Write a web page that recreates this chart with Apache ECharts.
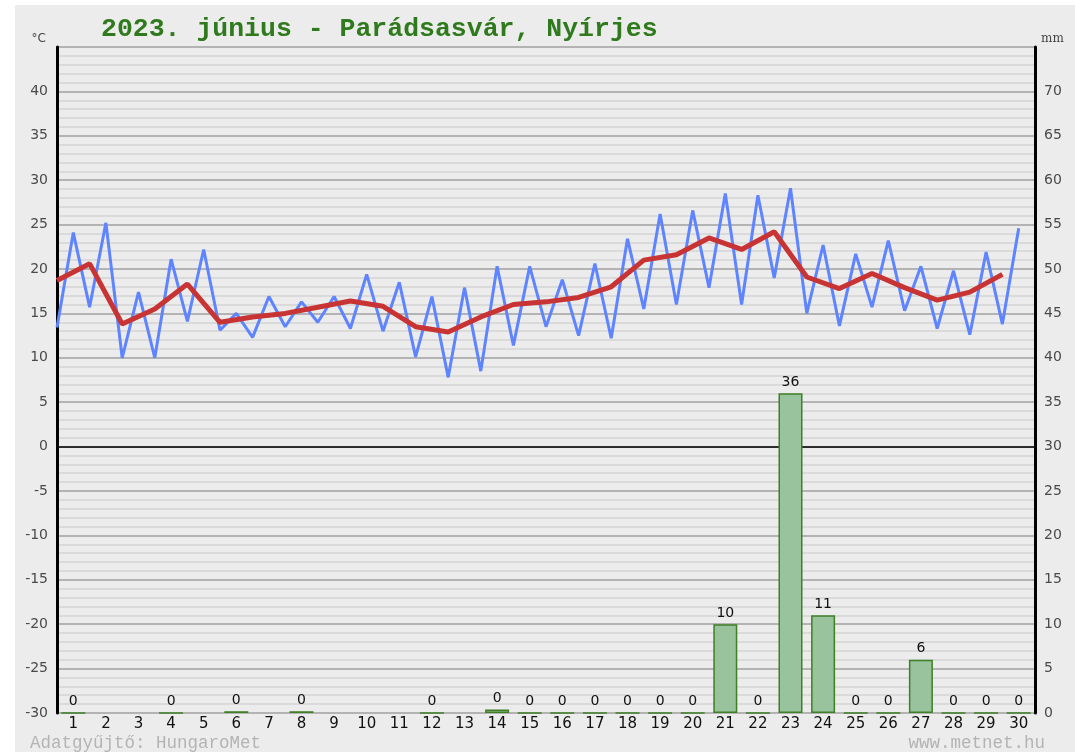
<!DOCTYPE html>
<html>
<head>
<meta charset="utf-8">
<script src="https://cdn.jsdelivr.net/npm/echarts@6/dist/echarts.min.js"></script>
<style>html,body{margin:0;padding:0;background:#fff}#c{width:1075px;height:752px}</style>
</head>
<body>
<div id="c"></div>
<script>
const days = ['1','2','3','4','5','6','7','8','9','10','11','12','13','14','15','16','17','18','19','20','21','22','23','24','25','26','27','28','29','30'];
// half-day temperatures (°C): alternating night minimum / day maximum
const tempHalfDay = [13.4,24.1,15.7,25.2,10.0,17.4,10.0,21.1,14.1,22.2,
  13.1,15.0,12.3,16.9,13.5,16.3,14.0,16.9,13.3,19.4,
  13.0,18.5,10.1,16.9,7.8,17.9,8.5,20.3,11.4,20.3,
  13.5,18.8,12.5,20.6,12.2,23.4,15.5,26.2,16.0,26.6,
  17.9,28.5,16.0,28.3,19.0,29.1,15.0,22.7,13.6,21.7,
  15.7,23.2,15.3,20.3,13.3,19.8,12.6,21.9,13.8,24.6];
// daily mean temperature (°C)
const tempDailyMean = [18.7,20.6,13.8,15.5,18.3,14.0,14.6,15.0,15.7,16.4,
  15.8,13.5,12.9,14.6,16.0,16.3,16.8,18.0,21.0,21.6,
  23.5,22.2,24.2,19.1,17.8,19.5,17.9,16.5,17.4,19.4];
// daily precipitation (mm), null = no report
const precip = [0,null,null,0,null,0.2,null,0.2,null,null,
  null,0,null,0.4,0,0,0,0,0,0,
  10,0,36,11,0,0,6,0,0,0];
const tempTicks = {min:-30, max:45, step:5};
const precipTicks = {min:0, max:75, step:5};

const chart = echarts.init(document.getElementById('c'));
const lbl = {fontFamily:'DejaVu Sans', fontSize:14, color:'#4a4a4a'};
chart.setOption({
  backgroundColor:'#ececec',
  animation:false,
  title:{text:'2023. június - Parádsasvár, Nyírjes', left:96, top:11,
    textStyle:{fontFamily:'Liberation Mono', fontWeight:'bold', fontSize:26.5, color:'#2f7a1c'}},
  graphic:[
    {type:'rect', shape:{x:0,y:0,width:15,height:752}, style:{fill:'#fff'}, z:-1},
    {type:'rect', shape:{x:0,y:0,width:1075,height:5}, style:{fill:'#fff'}, z:-1},
    {type:'text', left:30, top:734, style:{text:'Adatgyűjtő: HungaroMet', font:'17.5px "Liberation Mono"', fill:'#b4b4b4'}},
    {type:'text', right:30, top:734, style:{text:'www.metnet.hu', font:'17.5px "Liberation Mono"', fill:'#b4b4b4'}}
  ],
  grid:{left:57, right:40, top:47, bottom:39},
  xAxis:[
    {type:'category', data:days, boundaryGap:true,
     axisLine:{show:false}, axisTick:{show:false},
     axisLabel:{fontFamily:'DejaVu Sans', fontSize:15, color:'#111', margin:4}},
    {type:'value', min:0, max:30, show:false}
  ],
  yAxis:[
    {type:'value', min:tempTicks.min, max:tempTicks.max, interval:tempTicks.step,
     name:'°C', nameLocation:'end', nameGap:2,
     nameTextStyle:{fontFamily:'DejaVu Sans', fontSize:12, color:'#444', align:'right', padding:[0,11,0,0]},
     axisLine:{show:true, lineStyle:{color:'#000', width:3}},
     axisTick:{show:false},
     axisLabel:Object.assign({margin:9, formatter:v=>v===tempTicks.max?'':String(v)}, lbl),
     splitLine:{show:true, lineStyle:{color:'#a0a0a0', width:1.5}},
     minorTick:{show:false, splitNumber:5},
     minorSplitLine:{show:true, lineStyle:{color:'#d3d3d3', width:1.5}}},
    {type:'value', min:precipTicks.min, max:precipTicks.max, interval:precipTicks.step,
     name:'mm', nameLocation:'end', nameGap:2,
     nameTextStyle:{fontFamily:'DejaVu Serif', fontSize:12, color:'#444', align:'left', padding:[0,0,0,6]},
     axisLine:{show:true, lineStyle:{color:'#000', width:3}},
     axisTick:{show:false},
     axisLabel:Object.assign({margin:9, formatter:v=>v===precipTicks.max?'':String(v)}, lbl),
     splitLine:{show:false}}
  ],
  series:[
    {type:'line', name:'0 °C', xAxisIndex:1, yAxisIndex:0, data:[], z:1,
     markLine:{silent:true, z:1, symbol:'none', label:{show:false}, lineStyle:{color:'#000', width:1.5, type:'solid'},
       data:[{yAxis:0}]}},
    {type:'bar', name:'csapadék', xAxisIndex:0, yAxisIndex:1, data:precip, barWidth:24,
     itemStyle:{color:'#99c39c', borderColor:'#3f7f26', borderWidth:1.5},
     label:{show:true, position:'top', distance:4, fontFamily:'DejaVu Sans', fontSize:14, color:'#111',
       formatter:p=>p.value==null?'':String(Math.round(p.value))},
     z:2},
    {type:'line', name:'hőmérséklet', xAxisIndex:1, yAxisIndex:0,
     data:tempHalfDay.map((v,i)=>[i*0.5, v]), showSymbol:false, symbol:'none',
     lineStyle:{color:'#5f84ff', width:3}, z:3},
    {type:'line', name:'napi átlag', xAxisIndex:1, yAxisIndex:0,
     data:tempDailyMean.map((v,i)=>[i, v]), showSymbol:false, symbol:'none',
     lineStyle:{color:'#c83434', width:5}, z:4}
  ]
});
</script>
</body>
</html>
